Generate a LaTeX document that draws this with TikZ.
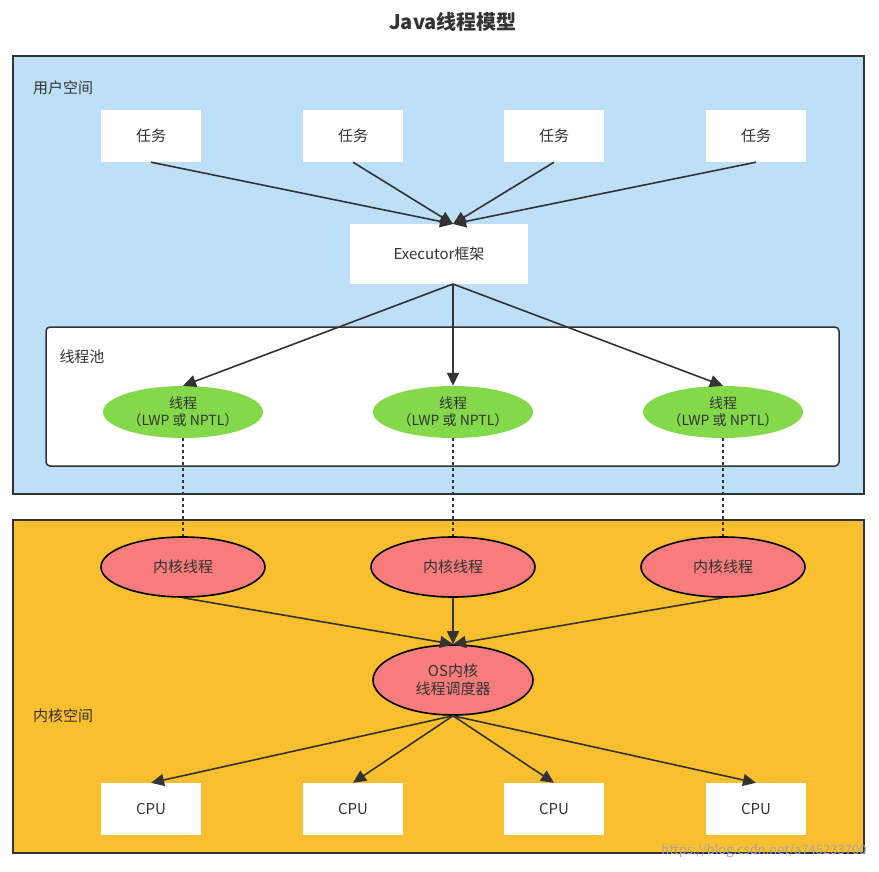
\documentclass[tikz,border=0pt]{standalone}
\usepackage{fontspec}
\setmainfont{Noto Sans CJK SC}
\usetikzlibrary{shapes.geometric,arrows.meta}
\definecolor{ublue}{HTML}{BDDFF8}
\definecolor{kyellow}{HTML}{F9BF2E}
\definecolor{tgreen}{HTML}{84D94A}
\definecolor{kred}{HTML}{F87C7C}
\definecolor{dk}{HTML}{333333}
\begin{document}
\begin{tikzpicture}[x=1pt,y=-1pt,
 box/.style={fill=white,draw=none,minimum width=100pt,minimum height=52pt,font=\fontsize{15}{18}\selectfont,text=dk},
 tell/.style={ellipse,fill=tgreen,draw=none,minimum width=160pt,minimum height=52pt,inner sep=0pt,align=center,font=\fontsize{14}{17}\selectfont,text=dk},
 kell/.style={ellipse,fill=kred,draw=black,line width=1.6pt,minimum width=164pt,minimum height=60pt,inner sep=0pt,align=center,font=\fontsize{15}{18}\selectfont,text=dk},
 arr/.style={draw=dk,line width=1.6pt,-{Triangle[length=13pt,width=12pt]}},
 dot/.style={draw=dk,line width=2pt,dash pattern=on 3pt off 3pt},
 lbl/.style={font=\fontsize{15}{18}\selectfont,text=dk}]
\useasboundingbox (0,0) rectangle (879,871);
\fill[white] (0,0) rectangle (879,871);
\node[font=\fontsize{20}{24}\selectfont\bfseries,text=dk] (title) at (453,22) {Java线程模型};
\draw[fill=ublue,draw=dk,line width=1.5pt] (13,56) rectangle (864,494);
\draw[fill=kyellow,draw=dk,line width=1.5pt] (13,520) rectangle (864,853);
\node[lbl] (us) at (63,88) {用户空间};
\node[lbl] (ks) at (63,716) {内核空间};
\draw[fill=white,draw=dk,line width=1.5pt,rounded corners=4pt] (46,327) rectangle (839,466);
\node[lbl] (pool) at (82,357) {线程池};
\foreach \i/\x in {1/151,2/353,3/554,4/756}{
 \node[box] (t\i) at (\x,136) {任务};
 \node[box] (c\i) at (\x,809) {CPU};
}
\node[box,minimum width=178pt,minimum height=60pt] (ex) at (439,254) {Executor框架};
\foreach \i/\x in {1/183,2/453,3/723}{
 \node[tell] (g\i) at (\x,412) {线程\\（LWP 或 NPTL）};
 \node[kell] (k\i) at (\x,567) {内核线程};
}
\node[kell,minimum width=160pt,minimum height=70pt] (os) at (453,680) {OS内核\\线程调度器};
\coordinate (exin) at (453,224);
\coordinate (exout) at (453,284);
\foreach \i in {1,2,3,4}{\draw[arr] (t\i.south) -- (exin);}
\foreach \i in {1,2,3}{
 \draw[arr] (exout) -- (g\i.north);
 \draw[dot] (g\i.south) -- (k\i.north);
 \draw[arr] (k\i.south) -- (os.north);
}
\foreach \i in {1,2,3,4}{\draw[arr] (os.south) -- (c\i.north);}
\node[font=\fontsize{13}{15}\selectfont,text=gray!70,anchor=east] (wm) at (870,851) {https://blog.csdn.net/a745233700};
\end{tikzpicture}
\end{document}
